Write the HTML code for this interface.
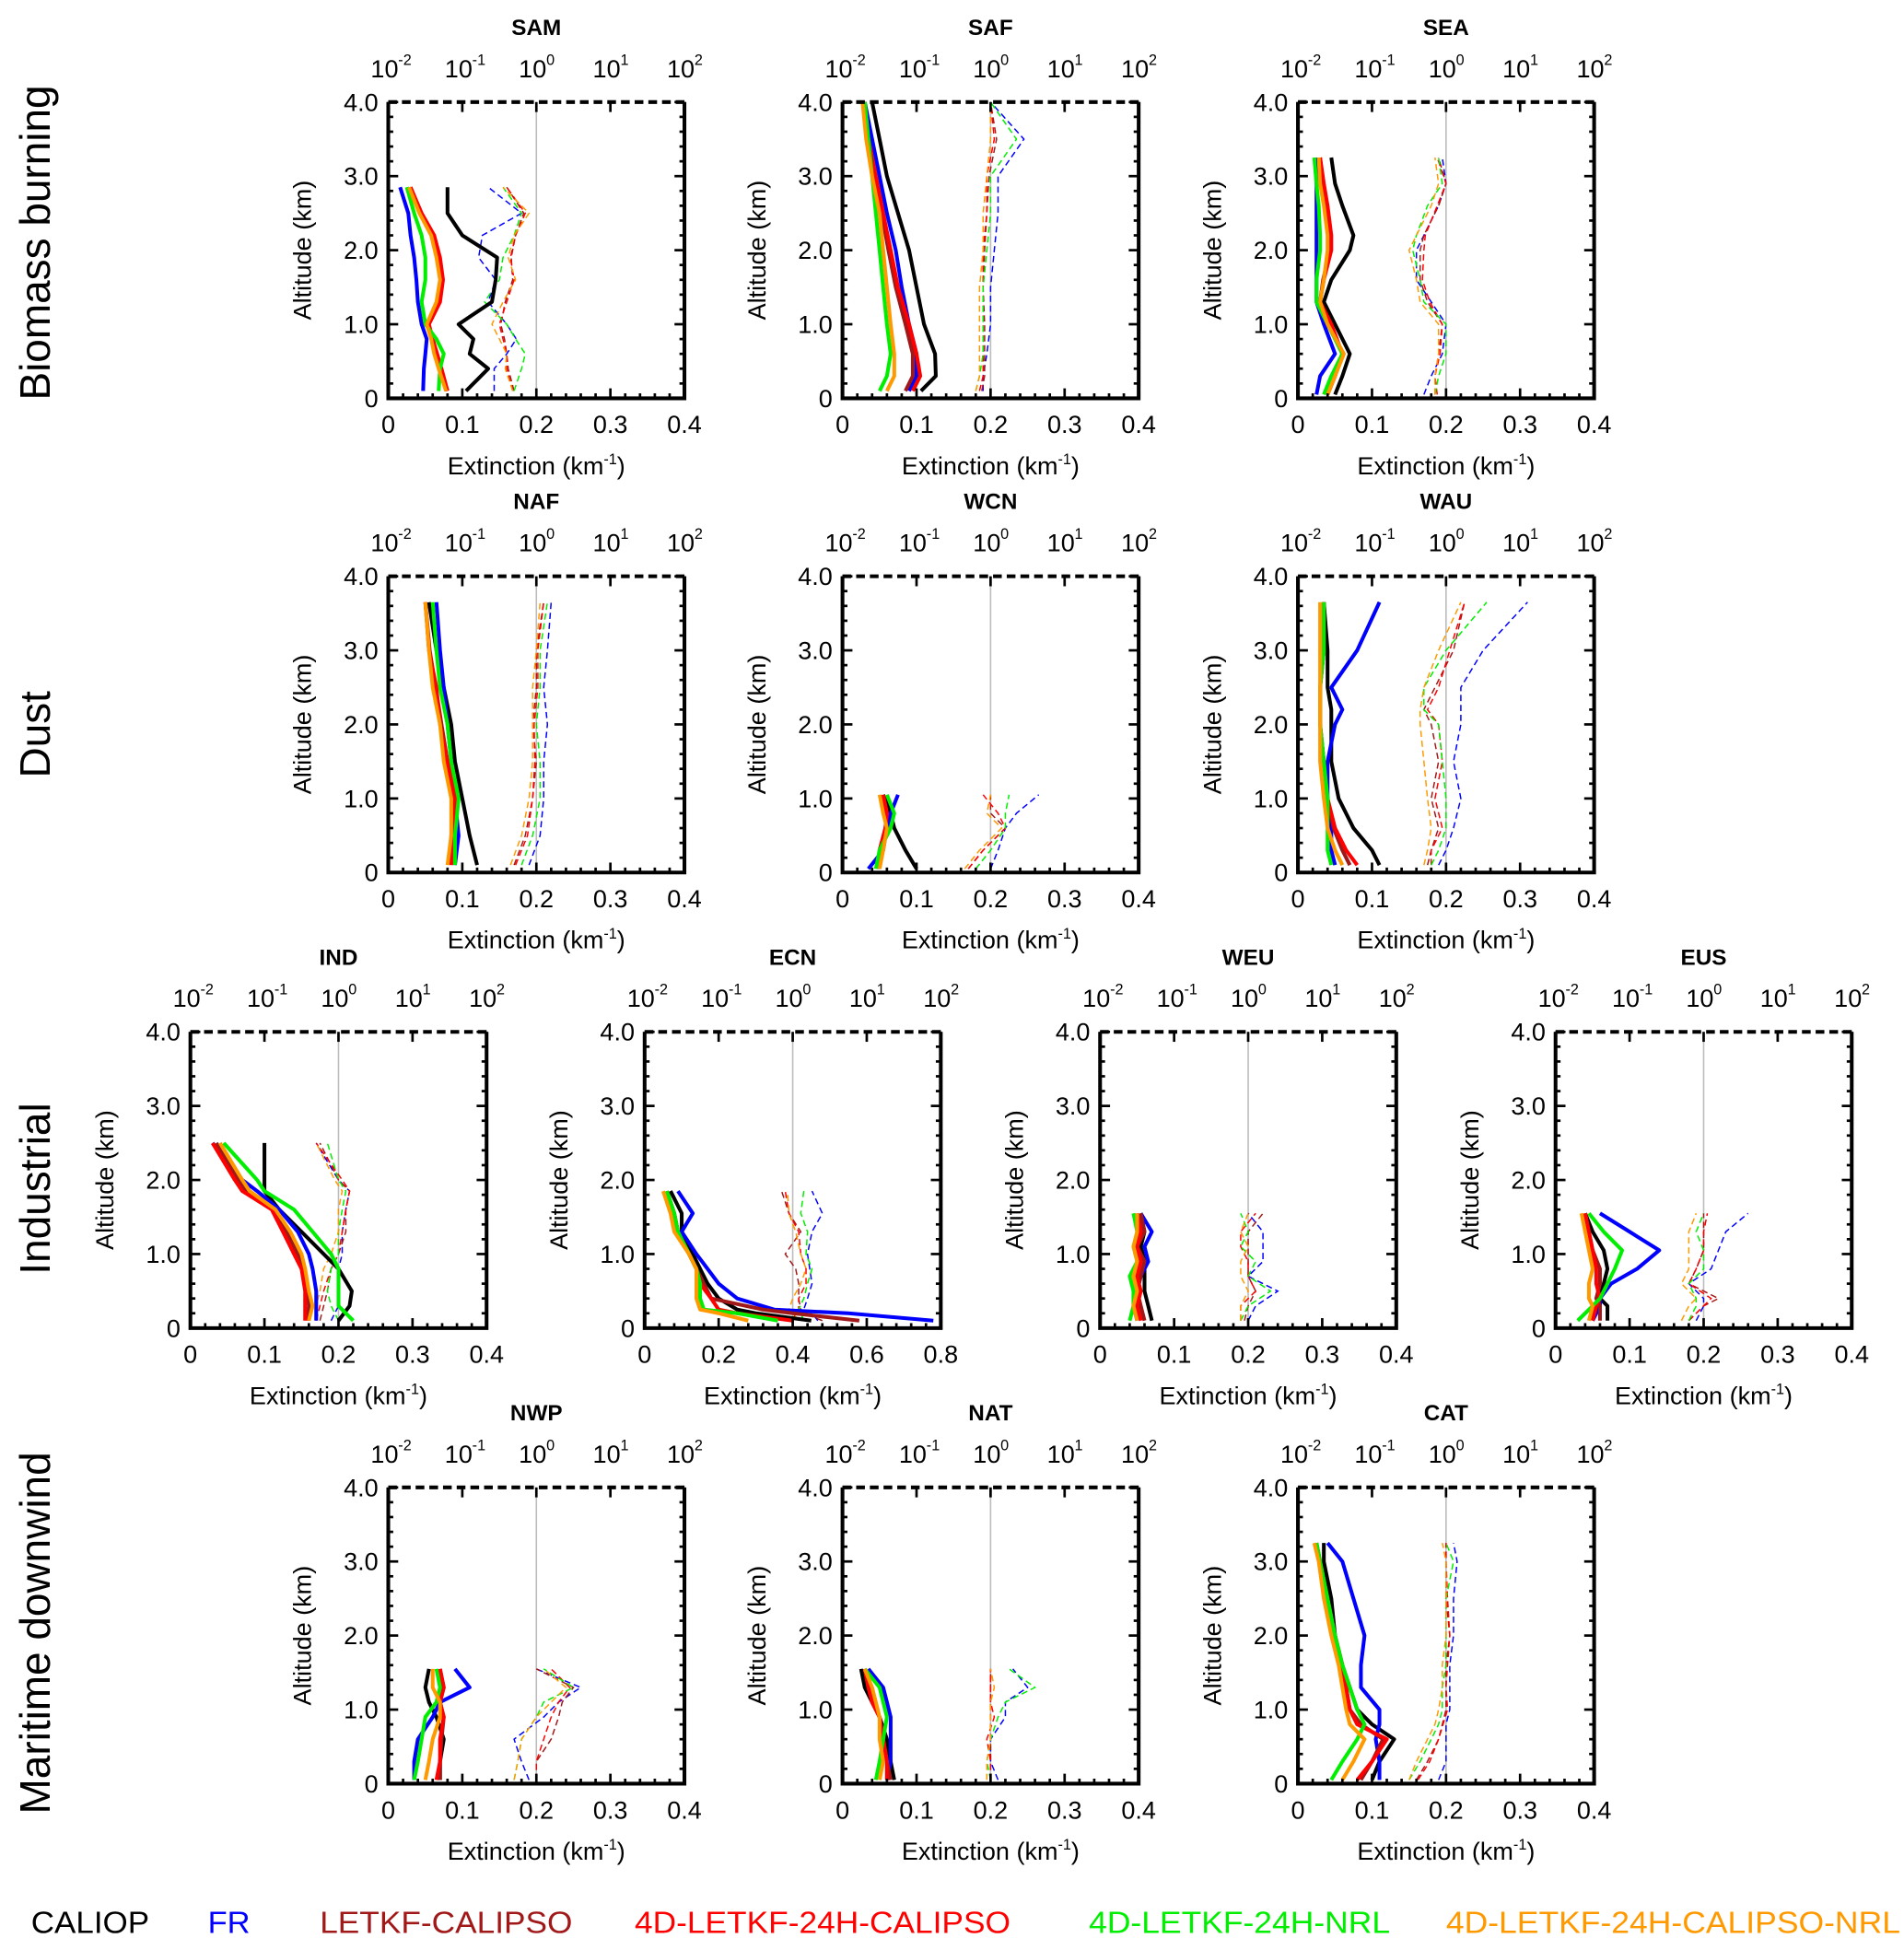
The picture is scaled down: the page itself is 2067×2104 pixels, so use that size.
<!DOCTYPE html>
<html><head><meta charset="utf-8"><style>
html,body{margin:0;padding:0;background:#fff;}
svg{display:block;font-family:"Liberation Sans",sans-serif;}
</style></head><body>
<svg id="fig" xmlns="http://www.w3.org/2000/svg" width="2067" height="2104" viewBox="0 0 1530 1557" preserveAspectRatio="none">
<g font-size="34" fill="#000">
<text transform="translate(40,195) rotate(-90)" text-anchor="middle">Biomass burning</text>
<text transform="translate(40,590) rotate(-90)" text-anchor="middle">Dust</text>
<text transform="translate(40,955) rotate(-90)" text-anchor="middle">Industrial</text>
<text transform="translate(40,1312) rotate(-90)" text-anchor="middle">Maritime downwind</text>
</g>
<g font-size="25">
<text x="25" y="1553" fill="#000" textLength="95" lengthAdjust="spacingAndGlyphs">CALIOP</text>
<text x="167" y="1553" fill="#0000ff" textLength="34" lengthAdjust="spacingAndGlyphs">FR</text>
<text x="257" y="1553" fill="#a01818" textLength="203" lengthAdjust="spacingAndGlyphs">LETKF-CALIPSO</text>
<text x="510" y="1553" fill="#ff0000" textLength="302" lengthAdjust="spacingAndGlyphs">4D-LETKF-24H-CALIPSO</text>
<text x="875" y="1553" fill="#00ee00" textLength="242" lengthAdjust="spacingAndGlyphs">4D-LETKF-24H-NRL</text>
<text x="1162" y="1553" fill="#ff9900" textLength="365" lengthAdjust="spacingAndGlyphs">4D-LETKF-24H-CALIPSO-NRL</text>
</g>
</svg>
<script>
// Series order (solid): CALIOP, FR, LETKF-CALIPSO, 4D-LETKF-24H-CALIPSO, 4D-LETKF-24H-NRL, 4D-LETKF-24H-CALIPSO-NRL
// Ratio (dashed, log10 of ratio, top log axis): FR, LETKF-CALIPSO, 4D-CALIPSO, 4D-NRL, 4D-CALIPSO-NRL
const SAM_alt=[0.1,0.4,0.6,0.8,1.0,1.3,1.6,1.9,2.2,2.5,2.85];
const SAM_solid=[[0.105,0.135,0.11,0.115,0.095,0.14,0.145,0.147,0.1,0.08,0.08],[0.047,0.048,0.05,0.052,0.045,0.04,0.038,0.035,0.03,0.027,0.016],[0.079,0.07,0.065,0.06,0.054,0.068,0.072,0.068,0.06,0.044,0.03],[0.08,0.072,0.066,0.06,0.055,0.07,0.074,0.07,0.062,0.045,0.03],[0.068,0.07,0.075,0.065,0.05,0.045,0.05,0.05,0.045,0.035,0.025],[0.078,0.068,0.062,0.058,0.052,0.065,0.07,0.065,0.058,0.042,0.028]];
const SAM_ratio=[[-0.57,-0.57,-0.4,-0.27,-0.4,-0.65,-0.55,-0.78,-0.73,-0.2,-0.65],[-0.3,-0.38,-0.4,-0.43,-0.48,-0.42,-0.32,-0.34,-0.28,-0.17,-0.4],[-0.32,-0.4,-0.4,-0.45,-0.5,-0.4,-0.3,-0.35,-0.28,-0.15,-0.4],[-0.3,-0.2,-0.15,-0.28,-0.4,-0.7,-0.5,-0.45,-0.3,-0.2,-0.45],[-0.32,-0.42,-0.4,-0.5,-0.6,-0.45,-0.28,-0.38,-0.3,-0.1,-0.45]];
const SAF_alt=[0.1,0.3,0.6,1.0,1.5,2.0,2.5,3.0,3.5,4.0];
const SAF_solid=[[0.106,0.126,0.125,0.11,0.1,0.09,0.075,0.06,0.05,0.04],[0.09,0.1,0.1,0.09,0.08,0.072,0.06,0.05,0.04,0.03],[0.085,0.095,0.095,0.085,0.072,0.062,0.053,0.044,0.035,0.03],[0.095,0.105,0.1,0.09,0.075,0.065,0.055,0.045,0.035,0.03],[0.05,0.06,0.065,0.06,0.055,0.05,0.045,0.04,0.035,0.03],[0.06,0.07,0.07,0.065,0.06,0.055,0.05,0.04,0.032,0.027]];
const SAF_ratio=[[-0.1,-0.1,-0.05,0,0,0.05,0.1,0.1,0.45,0],[-0.12,-0.08,-0.08,-0.08,-0.1,-0.08,-0.05,-0.02,0.08,0],[-0.15,-0.1,-0.1,-0.1,-0.1,-0.1,-0.05,-0.05,0.05,0],[-0.2,-0.15,-0.1,-0.1,-0.1,-0.05,0,0,0.35,0],[-0.2,-0.15,-0.15,-0.15,-0.15,-0.1,-0.1,-0.05,0,0]];
const SEA_alt=[0.05,0.3,0.6,1.0,1.3,1.6,2.0,2.2,2.6,2.9,3.25];
const SEA_solid=[[0.05,0.06,0.07,0.05,0.035,0.045,0.07,0.075,0.06,0.05,0.045],[0.025,0.03,0.05,0.035,0.025,0.025,0.025,0.025,0.025,0.025,0.025],[0.04,0.05,0.06,0.044,0.03,0.034,0.043,0.043,0.038,0.034,0.03],[0.04,0.05,0.06,0.045,0.03,0.035,0.045,0.045,0.04,0.035,0.03],[0.035,0.045,0.06,0.04,0.025,0.025,0.03,0.03,0.028,0.025,0.022],[0.04,0.05,0.062,0.04,0.03,0.035,0.04,0.04,0.035,0.03,0.028]];
const SEA_ratio=[[-0.3,-0.2,-0.05,0,-0.2,-0.4,-0.4,-0.3,-0.1,0,-0.05],[-0.15,-0.15,-0.1,-0.05,-0.25,-0.35,-0.35,-0.3,-0.1,0,-0.1],[-0.12,-0.15,-0.08,-0.05,-0.22,-0.32,-0.3,-0.28,-0.12,0,-0.12],[-0.15,-0.1,0,0,-0.3,-0.35,-0.45,-0.4,-0.25,-0.05,-0.1],[-0.15,-0.15,-0.1,-0.1,-0.35,-0.4,-0.5,-0.4,-0.2,-0.1,-0.15]];
const NAF_alt=[0.1,0.5,1.0,1.5,2.0,2.5,3.0,3.65];
const NAF_solid=[[0.12,0.11,0.1,0.09,0.085,0.075,0.065,0.055],[0.09,0.095,0.09,0.085,0.08,0.075,0.07,0.065],[0.087,0.087,0.09,0.08,0.072,0.064,0.056,0.05],[0.085,0.085,0.09,0.08,0.07,0.065,0.055,0.05],[0.09,0.09,0.095,0.085,0.08,0.07,0.065,0.06],[0.08,0.085,0.085,0.075,0.07,0.06,0.055,0.05]];
const NAF_ratio=[[-0.1,0.05,0.1,0.1,0.15,0.1,0.15,0.2],[-0.3,-0.15,-0.05,0,-0.05,0,0,0.1],[-0.28,-0.12,-0.05,-0.02,-0.03,0.02,0.02,0.1],[-0.2,-0.05,0.05,0.05,0,0.05,0.05,0.15],[-0.35,-0.2,-0.1,-0.05,-0.05,-0.05,0,0.05]];
const WCN_alt=[0.05,0.3,0.6,0.8,1.05];
const WCN_solid=[[0.1,0.085,0.07,0.065,0.055],[0.035,0.055,0.06,0.065,0.075],[0.05,0.05,0.058,0.06,0.055],[0.05,0.05,0.058,0.06,0.055],[0.045,0.05,0.065,0.07,0.06],[0.05,0.055,0.06,0.055,0.05]];
const WCN_ratio=[[0,0.1,0.2,0.35,0.65],[-0.3,-0.1,0.2,0,0],[-0.3,-0.1,0.2,0.1,-0.1],[-0.2,0,0.2,0.2,0.25],[-0.35,-0.15,0.15,-0.05,0]];
const WAU_alt=[0.1,0.3,0.6,1.0,1.5,2.0,2.2,2.5,3.0,3.65];
const WAU_solid=[[0.11,0.1,0.075,0.055,0.045,0.045,0.045,0.04,0.04,0.035],[0.05,0.045,0.045,0.04,0.04,0.05,0.06,0.045,0.08,0.11],[0.07,0.06,0.048,0.04,0.035,0.03,0.03,0.03,0.035,0.035],[0.08,0.065,0.05,0.04,0.035,0.03,0.03,0.03,0.035,0.035],[0.045,0.04,0.04,0.04,0.035,0.03,0.03,0.03,0.035,0.035],[0.06,0.05,0.04,0.035,0.03,0.03,0.03,0.03,0.03,0.03]];
const WAU_ratio=[[-0.1,0,0.1,0.2,0.1,0.2,0.2,0.2,0.5,1.1],[-0.25,-0.2,-0.1,-0.2,-0.1,-0.2,-0.3,-0.15,0.1,0.25],[-0.2,-0.2,-0.05,-0.15,-0.05,-0.1,-0.25,-0.1,0.05,0.25],[-0.2,-0.1,0,0,-0.05,-0.1,-0.3,-0.3,0,0.55],[-0.3,-0.25,-0.2,-0.25,-0.3,-0.35,-0.35,-0.3,-0.1,0.2]];
const IND_alt=[0.1,0.3,0.5,0.8,1.0,1.3,1.6,1.85,2.0,2.5];
const IND_solid=[[0.2,0.215,0.218,0.2,0.18,0.15,0.12,0.1,0.1,0.1],[0.17,0.17,0.17,0.165,0.16,0.145,0.12,0.09,0.07,0.03],[0.158,0.16,0.158,0.152,0.145,0.13,0.112,0.075,0.065,0.035],[0.155,0.155,0.155,0.15,0.14,0.125,0.11,0.07,0.06,0.03],[0.22,0.2,0.2,0.2,0.19,0.165,0.14,0.1,0.09,0.045],[0.16,0.165,0.16,0.155,0.15,0.135,0.115,0.08,0.07,0.04]];
const IND_ratio=[[-0.1,0,0,0,0.05,0.05,0.1,0.15,0,-0.3],[-0.25,-0.2,-0.15,-0.1,0,0.1,0.1,0.15,0,-0.25],[-0.3,-0.25,-0.2,-0.1,0,0.05,0.1,0.15,0.05,-0.3],[0,-0.1,-0.15,-0.1,0,0,0.05,0.1,0,-0.15],[-0.3,-0.3,-0.25,-0.2,-0.1,0,0,0.05,-0.05,-0.3]];
const ECN_alt=[0.1,0.2,0.25,0.4,0.6,0.8,1.0,1.3,1.55,1.85];
const ECN_solid=[[0.45,0.3,0.25,0.2,0.17,0.15,0.13,0.1,0.1,0.07],[0.78,0.55,0.35,0.25,0.2,0.17,0.14,0.1,0.13,0.09],[0.58,0.4,0.32,0.18,0.16,0.14,0.12,0.09,0.08,0.06],[0.4,0.25,0.2,0.18,0.15,0.14,0.12,0.09,0.08,0.06],[0.36,0.25,0.16,0.15,0.15,0.14,0.12,0.09,0.08,0.06],[0.28,0.2,0.15,0.14,0.14,0.14,0.12,0.08,0.07,0.05]];
const ECN_ratio=[[0.34,0.26,0.15,0.2,0.26,0.23,0.2,0.26,0.4,0.26],[0.4,0.15,0.11,0.08,0.08,0.04,-0.1,0.11,-0.05,-0.15],[0,0.04,0.08,0.08,0.18,0.18,0.11,0.08,-0.05,-0.1],[0.15,0.11,0.08,0.15,0.2,0.26,0.18,0.2,0.11,0.15],[0.08,0,-0.05,0,0.11,0.18,0.11,0.04,-0.05,-0.07]];
const WEU_alt=[0.1,0.3,0.5,0.7,0.9,1.1,1.3,1.55];
const WEU_solid=[[0.07,0.065,0.06,0.06,0.06,0.055,0.06,0.055],[0.05,0.045,0.05,0.055,0.065,0.06,0.07,0.055],[0.06,0.055,0.05,0.055,0.06,0.05,0.06,0.055],[0.055,0.05,0.055,0.05,0.055,0.05,0.055,0.05],[0.04,0.045,0.045,0.04,0.05,0.045,0.05,0.045],[0.05,0.045,0.05,0.045,0.05,0.045,0.05,0.05]];
const WEU_ratio=[[0,0.1,0.4,0,0.2,0.2,0.2,0],[-0.05,0,0.1,0,0,0,0,0.2],[-0.1,-0.1,0.1,0,0,-0.1,-0.1,0.1],[-0.1,0,0.3,0,0.1,-0.1,0,-0.1],[-0.1,-0.1,0,-0.1,-0.1,0,-0.1,0]];
const EUS_alt=[0.1,0.3,0.4,0.6,0.8,1.05,1.3,1.55];
const EUS_solid=[[0.07,0.07,0.06,0.065,0.07,0.065,0.05,0.04],[0.05,0.06,0.06,0.075,0.11,0.14,0.1,0.06],[0.06,0.06,0.055,0.06,0.06,0.05,0.045,0.04],[0.05,0.055,0.06,0.055,0.055,0.05,0.045,0.04],[0.03,0.05,0.06,0.07,0.08,0.09,0.065,0.045],[0.045,0.05,0.045,0.045,0.05,0.045,0.04,0.035]];
const EUS_ratio=[[-0.1,0,0,-0.2,0.1,0.2,0.3,0.6],[-0.2,0,0.2,-0.2,-0.1,0,0,0],[-0.2,0,0.1,-0.2,-0.1,0,0,0.05],[-0.2,-0.1,-0.1,-0.2,0,0,-0.1,0],[-0.3,-0.2,-0.1,-0.3,-0.2,-0.2,-0.2,-0.1]];
const NWP_alt=[0.05,0.3,0.6,0.9,1.1,1.3,1.55];
const NWP_solid=[[0.07,0.07,0.075,0.065,0.055,0.05,0.055],[0.035,0.035,0.04,0.06,0.07,0.11,0.09],[0.07,0.07,0.072,0.075,0.07,0.075,0.07],[0.065,0.07,0.07,0.075,0.07,0.075,0.07],[0.035,0.04,0.045,0.05,0.065,0.07,0.065],[0.05,0.055,0.06,0.07,0.07,0.06,0.06]];
const NWP_ratio=[[-0.1,-0.2,-0.3,0.1,0.3,0.6,0],[0,0,0.2,0.3,0.35,0.5,0],[0,0,0.1,0.2,0.3,0.45,0.2],[-0.3,-0.25,-0.2,0,0.1,0.5,0.1],[-0.3,-0.25,-0.2,0,0.2,0.4,0.1]];
const NAT_alt=[0.05,0.3,0.6,0.9,1.1,1.3,1.55];
const NAT_solid=[[0.07,0.065,0.06,0.05,0.04,0.03,0.025],[0.06,0.065,0.065,0.065,0.06,0.055,0.035],[0.065,0.06,0.055,0.05,0.04,0.035,0.03],[0.06,0.06,0.055,0.05,0.04,0.035,0.03],[0.045,0.05,0.055,0.06,0.055,0.05,0.03],[0.05,0.055,0.05,0.05,0.045,0.04,0.03]];
const NAT_ratio=[[0.1,0,0,0.2,0.2,0.5,0.3],[0,0,0,0,0,0,0],[0,0,-0.05,0.05,0,0,0],[0,-0.05,0,0.1,0.2,0.6,0.25],[-0.05,-0.05,0,0,0,0.05,0]];
const CAT_alt=[0.05,0.3,0.6,0.8,1.0,1.3,1.6,2.0,2.5,3.0,3.25];
const CAT_solid=[[0.1,0.11,0.13,0.1,0.08,0.07,0.06,0.05,0.045,0.035,0.035],[0.11,0.11,0.105,0.11,0.11,0.085,0.085,0.09,0.075,0.06,0.04],[0.085,0.1,0.115,0.085,0.07,0.065,0.06,0.05,0.04,0.03,0.025],[0.08,0.1,0.12,0.08,0.07,0.065,0.06,0.05,0.04,0.03,0.025],[0.045,0.06,0.08,0.09,0.08,0.07,0.06,0.05,0.04,0.03,0.025],[0.06,0.075,0.09,0.07,0.065,0.06,0.055,0.045,0.035,0.028,0.022]];
const CAT_ratio=[[-0.1,0,0,0,0.05,0.05,0.05,0.1,0.1,0.15,0.1],[-0.4,-0.25,-0.1,-0.05,0,0,0,0.05,0,0,0],[-0.38,-0.22,-0.1,-0.04,0.02,0,0.02,0.05,0.02,0,0],[-0.5,-0.35,-0.2,-0.1,-0.05,-0.05,0,0,0,0.1,0],[-0.5,-0.4,-0.25,-0.15,-0.1,-0.05,-0.05,0,0,0,-0.05]];
const solidColors=["#000000","#0000ff","#a01818","#ff0000","#00ee00","#ff9900"];
const ratioColors=["#0000ff","#a01818","#ff0000","#00ee00","#ff9900"];
const seriesNames=["caliop","fr","letkf-calipso","4d-letkf-24h-calipso","4d-letkf-24h-nrl","4d-letkf-24h-calipso-nrl"];
const ratioNames=["fr","letkf-calipso","4d-letkf-24h-calipso","4d-letkf-24h-nrl","4d-letkf-24h-calipso-nrl"];
const altTicks=[0,1,2,3,4];
const logTicks=[-2,-1,0,1,2];

const NS="http://www.w3.org/2000/svg";
const svg=document.getElementById('fig');
function mk(tag,attrs,parent){const e=document.createElementNS(NS,tag);for(const k in attrs)e.setAttribute(k,attrs[k]);parent.appendChild(e);return e;}

function drawPanel(name,L,T,xmax,alt,solid,ratio){
  const W=238,H=238,B=T+H;
  const xs=v=>L+v/xmax*W, ys=a=>B-a/4*H, xl=lg=>L+(lg+2)/4*W;
  const g=mk('g',{},svg);
  
  
  const t=mk('text',{x:L+W/2,y:T-54,'text-anchor':'middle','font-size':18,'font-weight':'bold'},g);t.textContent=name;
  
  
  mk('line',{x1:L+W/2,y1:T,x2:L+W/2,y2:B,stroke:'#bdbdbd','stroke-width':1.2},g);
  const cid='clip'+name;
  const cp=mk('clipPath',{id:cid},g);mk('rect',{x:L,y:T-2,width:W,height:H+4},cp);
  const data=mk('g',{'clip-path':'url(#'+cid+')'},g);
  ratio.forEach((s,i)=>{
    const pts=s.map((v,j)=>xl(v).toFixed(1)+','+ys(alt[j]).toFixed(1)).join(' ');
    const pl=mk('polyline',{points:pts,fill:'none',stroke:ratioColors[i],'stroke-width':1.1,'stroke-dasharray':'5 3'},data);
    
    
  });
  solid.forEach((s,i)=>{
    const pts=s.map((v,j)=>xs(v).toFixed(1)+','+ys(alt[j]).toFixed(1)).join(' ');
    const pl=mk('polyline',{points:pts,fill:'none',stroke:solidColors[i],'stroke-width':3,'stroke-linejoin':'round'},data);
    
    
  });
  mk('path',{d:`M${L},${T} L${L},${B} L${L+W},${B} L${L+W},${T}`,fill:'none',stroke:'#000','stroke-width':3},g);
  mk('line',{x1:L,y1:T,x2:L+W,y2:T,stroke:'#000','stroke-width':3,'stroke-dasharray':'7 4'},g);
  for(let k=0;k<=20;k++){const x=L+k*W/20,len=k%5==0?8:4;mk('line',{x1:x,y1:B,x2:x,y2:B-len,stroke:'#000','stroke-width':2},g);}
  for(let k=0;k<=4;k++){const v=xmax*k/4;const tx=mk('text',{x:xs(v),y:B+28,'text-anchor':'middle','font-size':20},g);tx.textContent=k==0?'0':v.toFixed(1);
    
    }
  for(let k=0;k<=20;k++){const y=B-k*H/20,len=k%5==0?8:4;
    mk('line',{x1:L,y1:y,x2:L+len,y2:y,stroke:'#000','stroke-width':2},g);
    mk('line',{x1:L+W,y1:y,x2:L+W-len,y2:y,stroke:'#000','stroke-width':2},g);}
  altTicks.forEach(a=>{const tx=mk('text',{x:L-8,y:ys(a)+7,'text-anchor':'end','font-size':20},g);tx.textContent=a==0?'0':a.toFixed(1);
    
    });
  logTicks.forEach(lg=>{const x=xl(lg);mk('line',{x1:x,y1:T,x2:x,y2:T+8,stroke:'#000','stroke-width':2},g);
    const tx=mk('text',{x:x-3,y:T-20,'text-anchor':'middle','font-size':20},g);tx.textContent='10';
    
    
    const sp=mk('text',{x:x+8,y:T-30,'text-anchor':'start','font-size':12},g);sp.textContent=String(lg);});
  const xt=mk('text',{x:L+W/2,y:B+61,'text-anchor':'middle','font-size':20},g);
  
  
  xt.textContent='Extinction (km';
  const s1=mk('tspan',{'font-size':12,dy:-8},xt);s1.textContent='-1';
  const s2=mk('tspan',{dy:8},xt);s2.textContent=')';
  const yt=mk('text',{transform:`translate(${L-62},${T+H/2}) rotate(-90)`,'text-anchor':'middle','font-size':20},g);
  
  
  yt.textContent='Altitude (km)';
}
const layout=[
 ["SAM",312,82,0.4,SAM_alt,SAM_solid,SAM_ratio],["SAF",677,82,0.4,SAF_alt,SAF_solid,SAF_ratio],["SEA",1043,82,0.4,SEA_alt,SEA_solid,SEA_ratio],
 ["NAF",312,463,0.4,NAF_alt,NAF_solid,NAF_ratio],["WCN",677,463,0.4,WCN_alt,WCN_solid,WCN_ratio],["WAU",1043,463,0.4,WAU_alt,WAU_solid,WAU_ratio],
 ["IND",153,829,0.4,IND_alt,IND_solid,IND_ratio],["ECN",518,829,0.8,ECN_alt,ECN_solid,ECN_ratio],["WEU",884,829,0.4,WEU_alt,WEU_solid,WEU_ratio],["EUS",1250,829,0.4,EUS_alt,EUS_solid,EUS_ratio],
 ["NWP",312,1195,0.4,NWP_alt,NWP_solid,NWP_ratio],["NAT",677,1195,0.4,NAT_alt,NAT_solid,NAT_ratio],["CAT",1043,1195,0.4,CAT_alt,CAT_solid,CAT_ratio]];
layout.forEach(p=>drawPanel(...p));
</script>
</body></html>
